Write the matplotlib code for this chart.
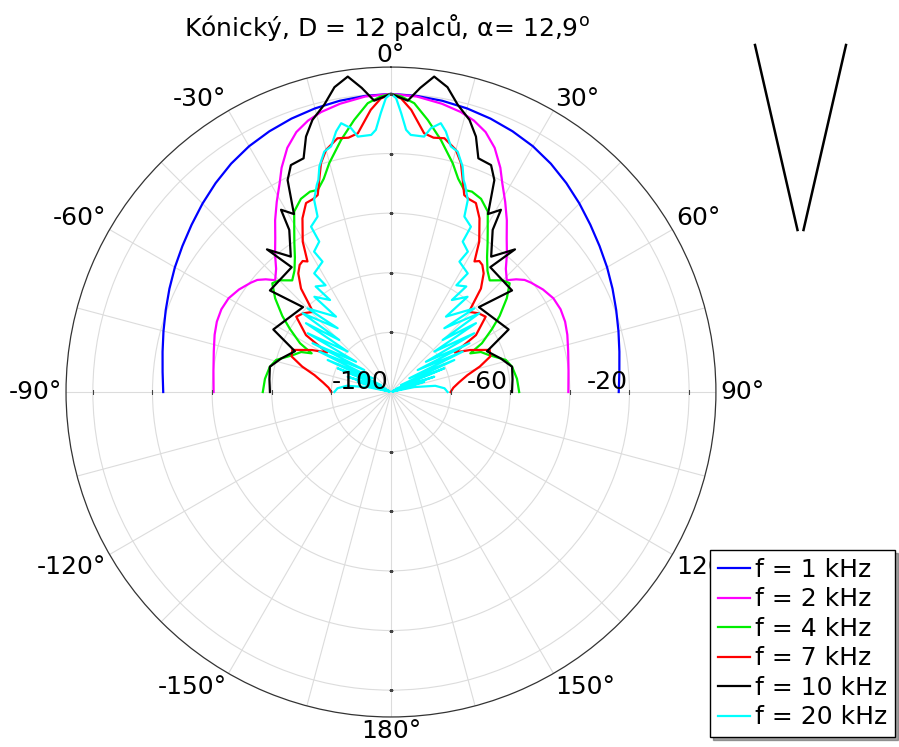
import numpy as np
import matplotlib
matplotlib.use("Agg")
import matplotlib.pyplot as plt
from matplotlib.transforms import offset_copy

# directivity of a conical horn, right half (0..90 deg), levels in dB
# (left half is the mirror image)
th_1k = [0, 5, 10, 15, 20, 25, 30, 35, 40, 45, 50, 55, 60, 65, 70, 75, 80, 85, 90]
db_1k = [0, -0.3, -0.8, -1.5, -2.4, -3.5, -4.8, -6.5, -8.5, -10.6, -12.7, -14.6,
         -16.3, -18, -19.6, -21, -22.2, -23.1, -23.6]

th_2k = [0, 5, 10, 14, 17, 20, 23, 26, 28, 31, 34, 37, 40, 43, 46, 48, 50,
         52, 56, 60, 64, 68, 72, 77, 83, 90]
db_2k = [0, -0.5, -1.8, -3.2, -4.8, -7.2, -11, -16.3, -20.5, -25.6, -30.5,
         -35.5, -39.5, -43.5, -46, -43.5, -41.5, -40.4, -38.5, -37.1, -36.7,
         -37, -37.8, -39, -40, -40.5]

th_4k = [0, 2, 4.6, 7.7, 11.2, 15.1, 17.5, 19.9, 22, 25, 28.2, 31, 33, 35.5,
         38.5, 41.5, 45, 47.5, 51, 55, 58, 61.8, 64, 66, 69.3, 74.4, 78.2, 84,
         90]
db_4k = [0, -0.8, -2.8, -7.9, -13.8, -20.5, -25, -27.9, -27.5, -28.5, -31.3,
         -37, -40.5, -44.5, -48, -50, -47, -46, -50, -55.5, -60, -65.4, -70.4,
         -67, -64.9, -60, -58.5, -57.5, -57]

th_7k = [0, 2, 4.1, 7.3, 9.5, 11.9, 15, 17, 18.7, 20.4, 22, 24.2, 27, 30.4,
         32.6, 34, 35.7, 38, 41, 44.2, 48, 51.5, 56.2, 58.3, 62, 66.9, 70.3,
         74, 77.5, 82, 86, 90]
db_7k = [0, -1.5, -5.1, -12.5, -13.5, -13, -15.9, -19.7, -24.9, -29.5, -30.2,
         -30.5, -34.6, -41.5, -48, -47, -47.5, -49.5, -54, -62.5, -60.5, -59.4,
         -65.7, -74.8, -70, -64, -64.6, -69, -73.7, -77, -79, -80]

th_10k = [0, 3.3, 5.5, 7.8, 10.5, 13.1, 16.1, 18.4, 20.5, 23.8, 26, 28.6, 31.1,
          32.1, 36.5, 41, 38.5, 50, 46, 62, 67, 73, 78.2, 84, 90]
db_10k = [0, -2.1, 2.5, 6.8, 4, -1.1, -5, -9.7, -16.3, -16.8, -20.9, -32,
          -28.6, -35.8, -43.5, -36.6, -46.5, -47, -59, -55.3, -65, -61.5,
          -58.5, -59, -59.4]

th_20k = [0, 1, 2.1, 3.3, 4.4, 7.4, 8.6, 10.5, 11.9, 13.7, 15.5, 17.6, 18.9,
          19.7, 21.8, 22.7, 25.8, 25.5, 28.7, 27.7, 32.9, 31.5, 35.5, 33.5,
          38.8, 36.1, 44.9, 39.9, 48.3, 44.8, 51, 47, 54.8, 49.1, 58.1, 50.5,
          60.6, 53.2, 63.2, 55, 66, 57.5, 70.5, 60, 72.8, 64, 75, 70, 78, 82,
          86, 90]
db_20k = [0, -1.4, -6.4, -11.9, -13.5, -13.6, -10.5, -8.3, -10.7, -15.2, -16.3,
          -20.6, -24.8, -26.2, -30.6, -36.2, -38.4, -44.1, -46.3, -50.6, -52.6,
          -58, -56.5, -63, -59, -68.7, -60.4, -72.1, -60.3, -75.4, -63.3,
          -80.1, -65.8, -84.5, -69, -88.4, -72.4, -92.3, -76.2, -95.9, -80.4,
          -98, -84.6, -99, -88.3, -99.5, -93, -99.5, -92, -85, -82, -81]

series = [("f = 1 kHz", th_1k, db_1k, "#0000ff"),
          ("f = 2 kHz", th_2k, db_2k, "#ff00ff"),
          ("f = 4 kHz", th_4k, db_4k, "#00ee00"),
          ("f = 7 kHz", th_7k, db_7k, "#ff0000"),
          ("f = 10 kHz", th_10k, db_10k, "#000000"),
          ("f = 20 kHz", th_20k, db_20k, "#00ffff")]

r_ticks = [-100, -80, -60, -40, -20, 0]
r_labels = {-100: "-100", -60: "-60", -20: "-20"}
theta_lab_deg = [0, 30, 60, 90, 120, 150, 180, -150, -120, -90, -60, -30]

# cone sketch (top right)
cone_xl = [-45.5, -3]
cone_xr = [45.5, 3]
cone_y = [185, 0]

RMIN, RMAX = -100, 9


def mirror(th, db):
    th = np.asarray(th, float)
    db = np.asarray(db, float)
    t = np.concatenate([-th[::-1], th[1:]])
    d = np.concatenate([db[::-1], db[1:]])
    return np.deg2rad(t), d


fig = plt.figure(figsize=(8.99, 7.47), dpi=100)
ax = fig.add_axes([0.0734, 0.0402, 0.723, 0.870], projection="polar")
ax.set_theta_zero_location("N")
ax.set_theta_direction(-1)

for lab, th, db, col in series:
    t, d = mirror(th, db)
    ax.plot(t, d, color=col, lw=1.6, label=lab)

ax.set_rlim(RMIN, RMAX)
ax.set_yticks(r_ticks)
ax.set_yticklabels([])
ax.tick_params(axis="y", length=0)

ax.set_thetagrids(np.arange(0, 360, 15), [""] * 24)
ax.grid(True, color="#dcdcdc", lw=0.8)
ax.spines["polar"].set_color("#333333")
ax.spines["polar"].set_linewidth(0.9)

# angle labels just outside the rim
for a in theta_lab_deg:
    s, c = np.sin(np.deg2rad(a)), np.cos(np.deg2rad(a))
    ha = "left" if s > 0.1 else ("right" if s < -0.1 else "center")
    va = "bottom" if c > 0.1 else ("top" if c < -0.1 else "center")
    oy = 0 if c > 0 else 2 * c
    tr = offset_copy(ax.transData, fig=fig, x=4 * s, y=oy, units="dots")
    ax.text(np.deg2rad(a), RMAX, "%d°" % a, transform=tr, ha=ha, va=va,
            fontsize=18, clip_on=False)

# small tick marks on the main axes
rt = [-80, -60, -40, -20, 0]
for a in (0, np.pi):
    ax.plot([a] * len(rt), rt, ls="none", marker="_", ms=3, mew=0.8, color="#444444")
for a in (np.pi / 2, 3 * np.pi / 2):
    ax.plot([a] * len(rt), rt, ls="none", marker="|", ms=3, mew=0.8, color="#444444")

tr = offset_copy(ax.transData, fig=fig, x=-2, y=3, units="dots")
for r, s in r_labels.items():
    ax.text(np.pi / 2, r, s, transform=tr, ha="right", va="baseline", fontsize=18)

fig.text(0.430, 0.952, "Kónický, D = 12 palců, α= 12,9$^{\\mathrm{o}}$",
         ha="center", va="baseline", fontsize=18)

leg = ax.legend(loc="lower right", bbox_to_anchor=(0.9956, 0.0134),
                bbox_transform=fig.transFigure, fontsize=18, shadow=True,
                fancybox=False, edgecolor="k", framealpha=1, labelspacing=0.22,
                handlelength=1.3, handletextpad=0.2, borderpad=0.3,
                borderaxespad=0)
leg.get_frame().set_linewidth(1.0)

cax = fig.add_axes([755 / 899, (747 - 230) / 747, 91 / 899, 185 / 747])
cax.plot(cone_xl, cone_y, color="k", lw=1.8, clip_on=False)
cax.plot(cone_xr, cone_y, color="k", lw=1.8, clip_on=False)
cax.set_xlim(-45.5, 45.5)
cax.set_ylim(0, 185)
cax.axis("off")

fig.savefig("out.png", dpi=100)
